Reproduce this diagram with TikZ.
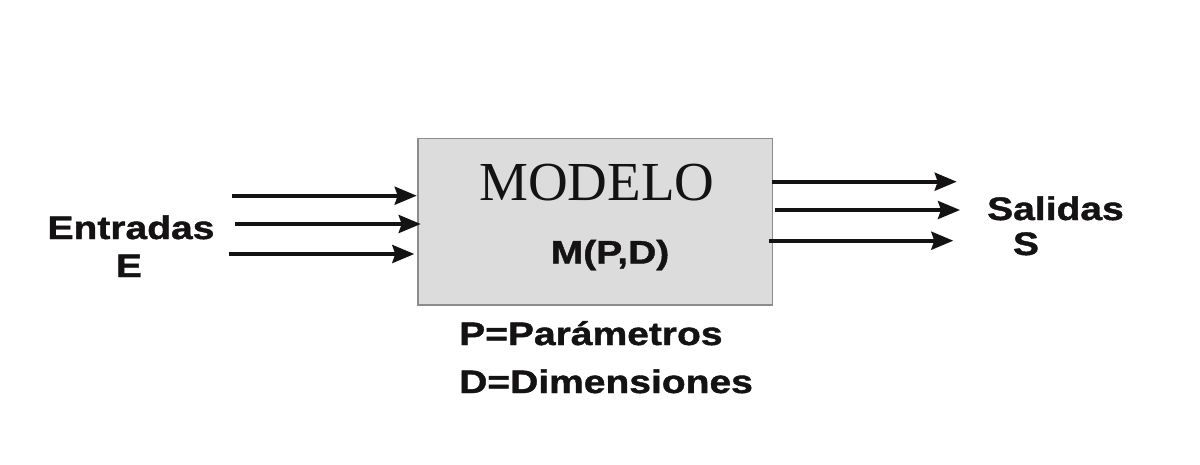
\documentclass[tikz,border=0pt]{standalone}
\usepackage{fontspec}
\setmainfont{Liberation Serif}
\newfontfamily\wsans{Liberation Sans}[FakeStretch=1.2, FakeBold=1.3, UprightFont={* Bold}]
\usetikzlibrary{arrows.meta}
\definecolor{boxfill}{RGB}{220,220,220}
\definecolor{boxborder}{RGB}{140,140,140}
\definecolor{ink}{RGB}{20,18,18}
\begin{document}
\begin{tikzpicture}[x=1pt,y=-1pt,
  arr/.style={ink, line width=3.6pt, -{Stealth[length=22pt,width=18pt,inset=3pt]}},
  lab/.style={ink, font=\wsans\fontsize{32.5}{39}\selectfont, inner sep=0pt, anchor=base},
]
\useasboundingbox (0,0) rectangle (1200,464);
\node[draw=boxborder, fill=boxfill, line width=1.3pt, minimum width=354.4pt, minimum height=166.6pt, anchor=north west, inner sep=0pt] (modelo) at (417.3,137.7) {};
\node[ink, font=\fontsize{55}{60}\selectfont, inner sep=0pt, anchor=base] (title) at (597,200) {MODELO};
\node[lab] (mpd) at (610,263.5) {M(P,D)};
\node[lab, anchor=base west] (par) at (459,345) {P=Parámetros};
\node[lab, anchor=base west] (dim) at (459,393) {D=Dimensiones};
\node[lab] (ent) at (131,239) {Entradas};
\node[lab] (e) at (129,277) {E};
\node[lab, anchor=base west] (sal) at (987,220) {Salidas};
\node[lab] (s) at (1026,255) {S};
\coordinate (i1s) at (231.7,195.7); \coordinate (i1e) at (416.7,195.7);
\coordinate (i2s) at (235,224);     \coordinate (i2e) at (420.7,224);
\coordinate (i3s) at (229,254);     \coordinate (i3e) at (414.3,254);
\coordinate (o1s) at (771.7,181.7); \coordinate (o1e) at (956.7,181.7);
\coordinate (o2s) at (775,210);     \coordinate (o2e) at (960,210);
\coordinate (o3s) at (769,240.7);   \coordinate (o3e) at (953.3,240.7);
\draw[arr] (i1s) -- (i1e);
\draw[arr] (i2s) -- (i2e);
\draw[arr] (i3s) -- (i3e);
\draw[arr] (o1s) -- (o1e);
\draw[arr] (o2s) -- (o2e);
\draw[arr] (o3s) -- (o3e);
\end{tikzpicture}
\end{document}
